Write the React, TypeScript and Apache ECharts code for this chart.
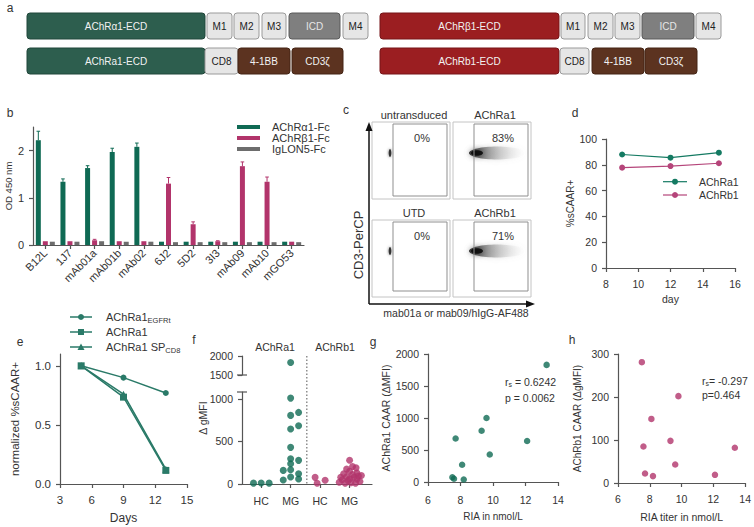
import React, { useEffect, useRef } from "react";
import * as echarts from "echarts";

const FONT = '"Liberation Sans", Arial, Helvetica, sans-serif';
const TXT = "#333333";
const AX = "#555555";
const GREEN = "#0f6a54";
const PINK = "#b2346b";
const GREY = "#6d6d6d";
const TEAL = "#2a7a68";
const DGREEN = "#147a62";
const DPINK = "#b5457a";

// ---------- panel b ----------
const bCategories = ["B12L", "1J7", "mAb01a", "mAb01b", "mAb02", "6J2", "5D2", "3I3", "mAb09", "mAb10", "mGO53"];
const bAlpha = [2.22, 1.34, 1.63, 1.97, 2.08, 0.07, 0.07, 0.07, 0.07, 0.07, 0.07];
const bAlphaErr = [0.19, 0.06, 0.05, 0.08, 0.08, 0, 0, 0, 0, 0, 0];
const bBeta = [0.08, 0.08, 0.1, 0.08, 0.08, 1.3, 0.44, 0.08, 1.67, 1.34, 0.07];
const bBetaErr = [0, 0, 0.02, 0, 0, 0.13, 0.05, 0.01, 0.09, 0.1, 0];
const bIgLON = [0.07, 0.07, 0.08, 0.07, 0.07, 0.06, 0.06, 0.06, 0.06, 0.06, 0.06];
const bLegend = ["AChRα1-Fc", "AChRβ1-Fc", "IgLON5-Fc"];

// ---------- panel d ----------
const dDays = [9, 12, 15];
const dAlpha = [88, 85.5, 89.4];
const dBeta = [77.8, 79, 81.2];

// ---------- panel e ----------
const eDays = [5, 9, 13];
const eEGFRt = [1.0, 0.9, 0.77];
const eAChRa1 = [1.0, 0.735, 0.115];
const eSPCD8 = [1.0, 0.76, 0.125];

// ---------- panel f ([jitter, value]) ----------
const fGroupLabels = ["HC", "MG", "HC", "MG"];
const fUpperTicks = [1500, 2000];
const fLowerTicks = [0, 500, 1000];
const fAlphaHC = [[-0.26, 10], [0, 12], [0.27, 10]];
const fAlphaMG = [
  [0, 1830], [0, 1010], [0, 807], [0.27, 842], [0, 647], [0.27, 686], [0, 431], [0, 298], [0.27, 278],
  [0, 239], [-0.25, 160], [0, 168], [0.27, 121], [-0.25, 47], [0, 82], [0.27, 59],
];
const fBetaHC = [[-0.17, 78], [-0.1, 8], [0.17, 45]];
const fBetaMG = [
  [0, 280], [0.1, 205], [-0.1, 175], [0.22, 190], [0, 150], [0.25, 130], [-0.2, 120], [0.1, 110],
  [-0.3, 80], [-0.1, 85], [0.3, 95], [0.15, 80], [0, 60], [-0.25, 50], [0.25, 55], [-0.05, 40],
  [0.35, 30], [-0.35, 20], [0.05, 15], [-0.15, 10], [0.2, 10], [0.4, 100],
];

// ---------- panel g / h ----------
const gRIA = [13.3, 9.6, 9.3, 7.7, 12.1, 9.8, 8.1, 7.5, 7.6, 8.2];
const gCAAR = [1830, 1000, 800, 680, 640, 430, 270, 75, 50, 40];
const hRIA = [7.5, 9.8, 8.1, 9.3, 7.6, 9.6, 7.7, 8.2, 12.1, 13.35];
const hCAAR = [281, 202, 149, 98, 85, 43, 22, 16, 19, 82];

// ---------- helpers ----------
const T = (x: number, y: number, text: string, o: any = {}) => {
  const style: any = {
    text,
    fill: o.fill || TXT,
    fontSize: o.size || 11,
    fontFamily: FONT,
    align: o.align || "center",
    verticalAlign: o.va || "middle",
  };
  if (o.rich) style.rich = o.rich;
  return { type: "text", x, y, rotation: o.rot || 0, silent: true, z: 20, style };
};
const L = (x1: number, y1: number, x2: number, y2: number, stroke: string, lw = 1, dash?: number[]) => {
  const style: any = { stroke, lineWidth: lw };
  if (dash) style.lineDash = dash;
  return { type: "line", shape: { x1, y1, x2, y2 }, style, silent: true, z: 20 };
};
const R = (x: number, y: number, w: number, h: number, fill: string, stroke: string, r = 3, lw = 1) => ({
  type: "rect",
  shape: { x, y, width: w, height: h, r },
  style: { fill, stroke, lineWidth: lw },
  silent: true,
  z: 10,
});

const BOXSTYLE: any = {
  green: { fill: "#2d5e4e", stroke: "#21463a", text: "#f2f2f2" },
  red: { fill: "#9b1e21", stroke: "#761518", text: "#f2f2f2" },
  light: { fill: "#e6e6e6", stroke: "#9a9a9a", text: "#222" },
  icd: { fill: "#7f7f7f", stroke: "#5a5a5a", text: "#e6e6e6" },
  brown: { fill: "#5c3320", stroke: "#442515", text: "#f2f2f2" },
};
const aBoxes: any[] = [
  [27, 13, 178, 26, "green", "AChRα1-ECD"],
  [207, 13, 25, 26, "light", "M1"],
  [234, 13, 25, 26, "light", "M2"],
  [262, 13, 24, 26, "light", "M3"],
  [289, 13, 51, 26, "icd", "ICD"],
  [343, 13, 25, 26, "light", "M4"],
  [27, 48, 178, 26, "green", "AChRa1-ECD"],
  [205, 48, 33, 26, "light", "CD8"],
  [238, 48, 52, 26, "brown", "4-1BB"],
  [292, 48, 51, 26, "brown", "CD3ζ"],
  [380, 13, 179, 26, "red", "AChRβ1-ECD"],
  [561, 13, 24, 26, "light", "M1"],
  [588, 13, 25, 26, "light", "M2"],
  [615, 13, 25, 26, "light", "M3"],
  [642, 13, 52, 26, "icd", "ICD"],
  [696, 13, 25, 26, "light", "M4"],
  [380, 48, 179, 26, "red", "AChRb1-ECD"],
  [560, 48, 29, 26, "light", "CD8"],
  [592, 48, 52, 26, "brown", "4-1BB"],
  [645, 48, 52, 26, "brown", "CD3ζ"],
];

const plain = (v: any) => String(v);

const axisStyle = (fontSize: number, margin: number) => ({
  axisLine: { show: true, onZero: false, lineStyle: { color: AX, width: 1.2 } },
  axisTick: { show: true, length: 4, lineStyle: { color: AX, width: 1.2 } },
  axisLabel: { color: TXT, fontSize, fontFamily: FONT, margin, formatter: plain },
  splitLine: { show: false },
});

function buildOption(): any {
  const graphic: any[] = [];
  // panel letters
  const letters: any[] = [["a", 10, 8], ["b", 10, 113], ["c", 346, 110], ["d", 575, 113], ["e", 20, 342], ["f", 194, 340], ["g", 373, 342], ["h", 572, 340]];
  letters.forEach(([t, x, y]) => graphic.push(T(x, y, t, { size: 12 })));

  // panel a
  aBoxes.forEach(([x, y, w, h, kind, label]) => {
    const s = BOXSTYLE[kind];
    graphic.push(R(x, y, w, h, s.fill, s.stroke, 3));
    graphic.push(T(x + w / 2, y + h / 2, label, { size: 10, fill: s.text }));
  });

  // panel b legend
  const bCols = [GREEN, PINK, GREY];
  bLegend.forEach((name, i) => {
    const y = 127 + i * 11;
    graphic.push({ type: "rect", shape: { x: 237, y: y - 2, width: 23, height: 4 }, style: { fill: bCols[i] }, silent: true, z: 20 });
    graphic.push(T(272, y, name, { align: "left", size: 11 }));
  });

  // panel c flow plots
  const frames = [
    { ox: 372, oy: 122, oh: 77, iy: 124, ih: 72, title: "untransduced", pct: "0%", blob: false },
    { ox: 453, oy: 122, oh: 77, iy: 124, ih: 72, title: "AChRa1", pct: "83%", blob: true },
    { ox: 372, oy: 220, oh: 77, iy: 222, ih: 69, title: "UTD", pct: "0%", blob: false },
    { ox: 453, oy: 220, oh: 77, iy: 222, ih: 69, title: "AChRb1", pct: "71%", blob: true },
  ];
  frames.forEach((f) => {
    graphic.push(R(f.ox, f.oy, 78, f.oh, "#ffffff", "#c4c4c4", 0, 1));
    graphic.push({ ...R(f.ox + 21, f.iy, 54, f.ih, "none", "#8f8f8f", 0, 1), z: 12 });
    graphic.push(T(f.ox + 42, f.oy - 7, f.title, { size: 11 }));
    graphic.push(T(f.ox + 50, f.oy + 16, f.pct, { size: 11 }));
    const cy = f.oy + 31;
    if (!f.blob) {
      graphic.push({
        type: "ellipse",
        shape: { cx: f.ox + 18, cy, rx: 1.3, ry: 4 },
        style: { fill: "#333333", shadowBlur: 3, shadowColor: "rgba(0,0,0,0.6)" },
        silent: true,
        z: 11,
      });
    } else {
      graphic.push({
        type: "ellipse",
        shape: { cx: f.ox + 44, cy, rx: 28, ry: 6.5 },
        style: {
          fill: new echarts.graphic.LinearGradient(0, 0, 1, 0, [
            { offset: 0, color: "rgba(30,30,30,0.9)" },
            { offset: 0.2, color: "rgba(80,80,80,0.75)" },
            { offset: 0.55, color: "rgba(170,170,170,0.5)" },
            { offset: 1, color: "rgba(235,235,235,0)" },
          ]),
          shadowBlur: 5,
          shadowColor: "rgba(150,150,150,0.5)",
        },
        silent: true,
        z: 11,
      });
      graphic.push({
        type: "ellipse",
        shape: { cx: f.ox + 24, cy, rx: 6, ry: 2.8 },
        style: { fill: "rgba(0,0,0,0.8)", shadowBlur: 6, shadowColor: "rgba(0,0,0,0.7)" },
        silent: true,
        z: 11,
      });
    }
  });
  // axes arrows for c
  graphic.push(L(369, 304, 369, 128, "#111", 1.5));
  graphic.push({ type: "polygon", shape: { points: [[365.5, 131], [372.5, 131], [369, 122]] }, style: { fill: "#111" }, silent: true, z: 20 });
  graphic.push(L(369, 304, 528, 304, "#111", 1.5));
  graphic.push({ type: "polygon", shape: { points: [[526, 300.5], [526, 307.5], [535, 304]] }, style: { fill: "#111" }, silent: true, z: 20 });
  graphic.push(T(358, 245, "CD3-PerCP", { size: 13, rot: Math.PI / 2 }));
  graphic.push(T(456, 313, "mab01a or mab09/hIgG-AF488", { size: 10.5 }));

  // panel d legend
  [[DGREEN, "AChRa1", 181.7], [DPINK, "AChRb1", 195]].forEach(([c, n, y]: any) => {
    graphic.push(L(663, y, 687, y, c, 1.2));
    graphic.push({ type: "circle", shape: { cx: 675, cy: y, r: 3 }, style: { fill: c }, silent: true, z: 21 });
    graphic.push(T(699, y, n, { align: "left", size: 10.5 }));
  });

  // panel e legend
  const richSub = {
    n: { fontSize: 11, fontFamily: FONT, fill: TXT, lineHeight: 15 },
    s: { fontSize: 7.5, fontFamily: FONT, fill: TXT, lineHeight: 8, verticalAlign: "bottom" },
  };
  [317, 332, 347].forEach((y) => graphic.push(L(70, y, 92, y, TEAL, 1.5)));
  graphic.push({ type: "circle", shape: { cx: 81, cy: 317, r: 3 }, style: { fill: TEAL }, silent: true, z: 21 });
  graphic.push({ type: "rect", shape: { x: 78, y: 329, width: 6, height: 6 }, style: { fill: TEAL }, silent: true, z: 21 });
  graphic.push({ type: "polygon", shape: { points: [[77.5, 350], [84.5, 350], [81, 343.5]] }, style: { fill: TEAL }, silent: true, z: 21 });
  graphic.push(T(106, 317, "{n|AChRa1}{s|EGFRt}", { align: "left", rich: richSub }));
  graphic.push(T(106, 332, "AChRa1", { align: "left", size: 11 }));
  graphic.push(T(106, 347, "{n|AChRa1 SP}{s|CD8}", { align: "left", rich: richSub }));

  // panel f decorations
  graphic.push(T(275, 347, "AChRa1", { size: 10.5 }));
  graphic.push(T(335, 347, "AChRb1", { size: 10.5 }));
  graphic.push(T(203, 418, "Δ gMFI", { size: 10.5, rot: Math.PI / 2 }));
  const fx = 242 + ((2.55 - 0.35) / (4.76 - 0.35)) * 130;
  graphic.push(L(fx, 356, fx, 484, "#555", 1, [1.5, 2]));
  graphic.push(L(237, 375, 247, 375, AX, 1.2));
  graphic.push(L(237, 392, 247, 392, AX, 1.2));
  // tick labels of the broken axis' upper segment
  graphic.push({ ...T(233, 356, String(fUpperTicks[1]), { align: "right", size: 10.5 }), z: 60 });
  graphic.push({ ...T(233, 375, String(fUpperTicks[0]), { align: "right", size: 10.5 }), z: 60 });

  // panels g, h annotations
  const richAnn = {
    n: { fontSize: 10.5, fontFamily: FONT, fill: TXT, lineHeight: 12 },
    s: { fontSize: 7, fontFamily: FONT, fill: TXT, lineHeight: 6, verticalAlign: "bottom" },
  };
  graphic.push(T(505, 382, "{n|r}{s|s}{n| = 0.6242}", { align: "left", rich: richAnn }));
  graphic.push(T(505, 398, "p = 0.0062", { align: "left", size: 10.5 }));
  graphic.push(T(702, 381, "{n|r}{s|s}{n|= -0.297}", { align: "left", rich: richAnn }));
  graphic.push(T(702, 394.5, "p=0.464", { align: "left", size: 10.5 }));

  const errSeries = (vals: number[], errs: number[], color: string, offset: number) => ({
    type: "custom",
    xAxisIndex: 0,
    yAxisIndex: 0,
    z: 5,
    data: vals.map((v, i) => [i, v, errs[i]]).filter((d) => d[2] > 0),
    encode: { x: 0, y: 1 },
    renderItem: (_p: any, api: any) => {
      const i = api.value(0);
      const v = api.value(1);
      const e = api.value(2);
      const p0 = api.coord([i, v]);
      const p1 = api.coord([i, v + e]);
      const x = p0[0] + offset;
      return {
        type: "group",
        children: [
          { type: "line", shape: { x1: x, y1: p0[1], x2: x, y2: p1[1] }, style: { stroke: color, lineWidth: 1 } },
          { type: "line", shape: { x1: x - 1.8, y1: p1[1], x2: x + 1.8, y2: p1[1] }, style: { stroke: color, lineWidth: 1 } },
        ],
      };
    },
  });

  const yName = (name: string, gap: number, size: number) => ({
    name,
    nameLocation: "middle",
    nameGap: gap,
    nameTextStyle: { color: TXT, fontSize: size, fontFamily: FONT },
  });

  const fData = (arr: number[][], g: number, upper: boolean) =>
    arr.filter((d) => (upper ? d[1] >= 1500 : d[1] < 1500)).map((d) => [g + d[0], d[1]]);

  return {
    animation: false,
    backgroundColor: "#ffffff",
    textStyle: { fontFamily: FONT },
    graphic,
    grid: [
      { left: 33, top: 127, width: 271, height: 118 },
      { left: 606, top: 139, width: 129, height: 129 },
      { left: 60, top: 354, width: 127, height: 130 },
      { left: 242, top: 392, width: 130, height: 92 },
      { left: 242, top: 356, width: 130, height: 19 },
      { left: 428, top: 354, width: 130, height: 128 },
      { left: 618, top: 354, width: 128, height: 129 },
    ],
    xAxis: [
      {
        type: "category",
        gridIndex: 0,
        data: bCategories,
        ...axisStyle(11, 5),
        axisTick: { show: true, alignWithLabel: true, length: 4, lineStyle: { color: AX, width: 1.2 } },
        axisLabel: { color: TXT, fontSize: 11, fontFamily: FONT, rotate: 45, interval: 0, margin: 6 },
      },
      { type: "value", gridIndex: 1, min: 8, max: 16, interval: 2, ...axisStyle(10.5, 10), ...yName("day", 25, 10.5) },
      { type: "value", gridIndex: 2, min: 3, max: 15, interval: 3, ...axisStyle(11.5, 10), ...yName("Days", 28, 12) },
      {
        type: "value",
        gridIndex: 3,
        min: 0.35,
        max: 4.76,
        ...axisStyle(10.5, 11),
        axisTick: { show: true, length: 4, customValues: [1, 2, 3, 4], lineStyle: { color: AX, width: 1.2 } },
        axisLabel: {
          color: TXT,
          fontSize: 10.5,
          fontFamily: FONT,
          margin: 11,
          customValues: [1, 2, 3, 4],
          formatter: (v: number) => fGroupLabels[Math.round(v) - 1] || "",
        },
      },
      { type: "value", gridIndex: 4, min: 0.35, max: 4.76, show: false },
      { type: "value", gridIndex: 5, min: 6, max: 14, interval: 2, ...axisStyle(10.5, 12), ...yName("RIA in nmol/L", 29, 10) },
      { type: "value", gridIndex: 6, min: 6, max: 14, interval: 2, ...axisStyle(10.5, 10), ...yName("RIA titer in nmol/L", 28, 10.5) },
    ],
    yAxis: [
      {
        type: "value",
        gridIndex: 0,
        min: 0,
        max: 2.5,
        ...axisStyle(11, 9),
        axisTick: { show: true, length: 4, customValues: [0, 1, 2], lineStyle: { color: AX, width: 1.2 } },
        axisLabel: { color: TXT, fontSize: 11, fontFamily: FONT, margin: 9, customValues: [0, 1, 2], formatter: plain },
        ...yName("OD 450 nm", 20, 9.5),
      },
      { type: "value", gridIndex: 1, min: 0, max: 100, interval: 20, ...axisStyle(10.5, 9), ...yName("%sCAAR+", 30, 10) },
      {
        type: "value",
        gridIndex: 2,
        min: 0,
        max: 1.1,
        ...axisStyle(11.5, 9),
        axisTick: { show: true, length: 4, customValues: [0, 0.5, 1], lineStyle: { color: AX, width: 1.2 } },
        axisLabel: {
          color: TXT,
          fontSize: 11.5,
          fontFamily: FONT,
          margin: 9,
          customValues: [0, 0.5, 1],
          formatter: (v: number) => v.toFixed(1),
        },
        ...yName("normalized %sCAAR+", 39, 11.5),
      },
      {
        type: "value",
        gridIndex: 3,
        min: 0,
        max: 1082,
        ...axisStyle(10.5, 9),
        axisTick: { show: true, length: 4, customValues: fLowerTicks, lineStyle: { color: AX, width: 1.2 } },
        axisLabel: { color: TXT, fontSize: 10.5, fontFamily: FONT, margin: 9, customValues: fLowerTicks, formatter: plain },
      },
      {
        type: "value",
        gridIndex: 4,
        min: 1500,
        max: 2000,
        ...axisStyle(10.5, 9),
        axisTick: { show: true, length: 4, customValues: fUpperTicks, lineStyle: { color: AX, width: 1.2 } },
        axisLabel: { show: false },
      },
      { type: "value", gridIndex: 5, min: 0, max: 2000, interval: 500, ...axisStyle(10.5, 9), ...yName("AChRa1 CAAR (ΔMFI)", 37, 10.5) },
      { type: "value", gridIndex: 6, min: 0, max: 300, interval: 100, ...axisStyle(10.5, 9), ...yName("AChRb1 CAAR (ΔgMFI)", 36, 10) },
    ],
    series: [
      // b
      { type: "bar", name: bLegend[0], xAxisIndex: 0, yAxisIndex: 0, data: bAlpha, barWidth: 5, barGap: "40%", itemStyle: { color: GREEN } },
      { type: "bar", name: bLegend[1], xAxisIndex: 0, yAxisIndex: 0, data: bBeta, barWidth: 5, barGap: "40%", itemStyle: { color: PINK } },
      { type: "bar", name: bLegend[2], xAxisIndex: 0, yAxisIndex: 0, data: bIgLON, barWidth: 5, barGap: "40%", itemStyle: { color: GREY } },
      errSeries(bAlpha, bAlphaErr, GREEN, -7),
      errSeries(bBeta, bBetaErr, PINK, 0),
      // d
      {
        type: "line", name: "AChRa1", xAxisIndex: 1, yAxisIndex: 1,
        data: dDays.map((d, i) => [d, dAlpha[i]]),
        symbol: "circle", symbolSize: 6, lineStyle: { color: DGREEN, width: 1.2 }, itemStyle: { color: DGREEN },
      },
      {
        type: "line", name: "AChRb1", xAxisIndex: 1, yAxisIndex: 1,
        data: dDays.map((d, i) => [d, dBeta[i]]),
        symbol: "circle", symbolSize: 6, lineStyle: { color: DPINK, width: 1.2 }, itemStyle: { color: DPINK },
      },
      // e
      {
        type: "line", name: "AChRa1 EGFRt", xAxisIndex: 2, yAxisIndex: 2,
        data: eDays.map((d, i) => [d, eEGFRt[i]]),
        symbol: "circle", symbolSize: 6, lineStyle: { color: TEAL, width: 1.5 }, itemStyle: { color: TEAL },
      },
      {
        type: "line", name: "AChRa1 SPCD8", xAxisIndex: 2, yAxisIndex: 2,
        data: eDays.map((d, i) => [d, eSPCD8[i]]),
        symbol: "triangle", symbolSize: 7, lineStyle: { color: TEAL, width: 1.5 }, itemStyle: { color: TEAL },
      },
      {
        type: "line", name: "AChRa1 (e)", xAxisIndex: 2, yAxisIndex: 2,
        data: eDays.map((d, i) => [d, eAChRa1[i]]),
        symbol: "rect", symbolSize: 7, lineStyle: { color: TEAL, width: 1.5 }, itemStyle: { color: TEAL },
      },
      // f
      {
        type: "scatter", xAxisIndex: 3, yAxisIndex: 3, symbolSize: 7, clip: false, itemStyle: { color: GREEN },
        data: [...fData(fAlphaHC, 1, false), ...fData(fAlphaMG, 2, false)],
      },
      {
        type: "scatter", xAxisIndex: 4, yAxisIndex: 4, symbolSize: 7, clip: false, itemStyle: { color: GREEN },
        data: fData(fAlphaMG, 2, true),
      },
      {
        type: "scatter", xAxisIndex: 3, yAxisIndex: 3, symbolSize: 7, clip: false, itemStyle: { color: PINK },
        data: [...fData(fBetaHC, 3, false), ...fData(fBetaMG, 4, false)],
      },
      // g
      {
        type: "scatter", xAxisIndex: 5, yAxisIndex: 5, symbolSize: 6.5, clip: false, itemStyle: { color: GREEN },
        data: gRIA.map((x, i) => [x, gCAAR[i]]),
      },
      // h
      {
        type: "scatter", xAxisIndex: 6, yAxisIndex: 6, symbolSize: 6.5, clip: false, itemStyle: { color: PINK },
        data: hRIA.map((x, i) => [x, hCAAR[i]]),
      },
    ],
  };
}

export default function App() {
  const ref = useRef<HTMLDivElement>(null);
  useEffect(() => {
    const chart = echarts.init(ref.current as HTMLDivElement, null, { renderer: "svg" });
    chart.setOption(buildOption());
    return () => chart.dispose();
  }, []);
  return (
    <div
      ref={ref}
      style={{ position: "absolute", left: 0, top: 0, width: 754, height: 527, background: "#ffffff" }}
    />
  );
}
